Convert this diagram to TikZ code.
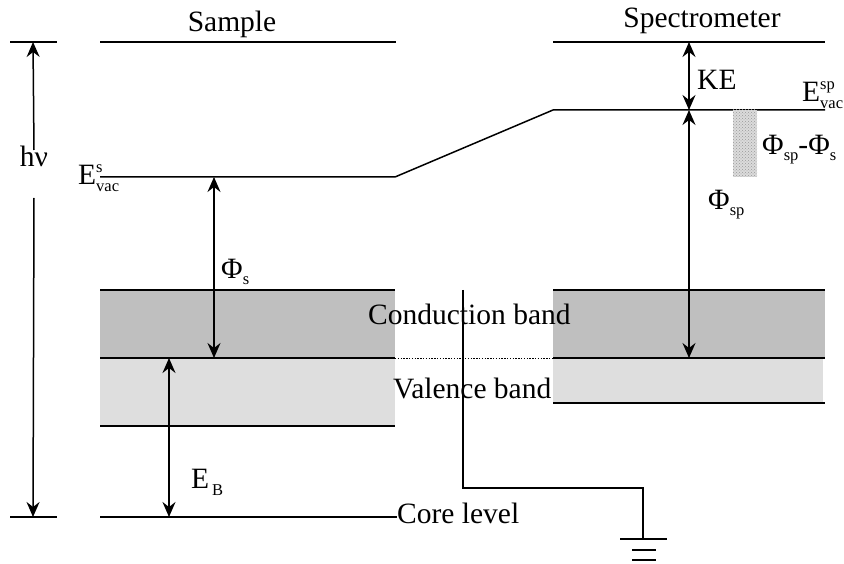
\documentclass[tikz,border=0pt]{standalone}
\usepackage{fontspec}
\setmainfont{Liberation Serif}
\usetikzlibrary{arrows.meta,patterns}
\newcommand{\sbs}{\fontsize{16.5}{17}\selectfont}
\newcommand{\supsub}[2]{\rlap{\raisebox{12pt}{\sbs #1}}\raisebox{-7pt}{\sbs #2}}
\begin{document}
\begin{tikzpicture}[x=1pt,y=-1pt,
  lvl/.style={line width=1.5pt},
  dbl/.style={line width=1.5pt,{Stealth[length=15pt,width=13pt,inset=5pt]}-{Stealth[length=15pt,width=13pt,inset=5pt]}},
  sgl/.style={line width=1.5pt,-{Stealth[length=15pt,width=13pt,inset=5pt]}},
  lbl/.style={font=\fontsize{29.5}{33}\selectfont, inner sep=0pt, anchor=base west},
  dark/.style={fill=black!25},
  light/.style={fill=black!13},
]
\useasboundingbox (0,0) rectangle (844,564);

% bands
\fill[dark]  (100,290) rectangle (395,358);
\fill[light] (100,358) rectangle (395,426);
\fill[dark]  (553,290) rectangle (825,358);
\fill[light] (553,358) rectangle (823,403);

% coordinates
\coordinate (hT1) at (10,42);  \coordinate (hT2) at (57,42);
\coordinate (hB1) at (10,517); \coordinate (hB2) at (57,517);
\coordinate (hTop) at (33,42); \coordinate (hBot) at (33,517);
\coordinate (sTopL) at (100,42); \coordinate (sTopR) at (396,42);
\coordinate (pTopL) at (553,42); \coordinate (pTopR) at (825,42);
\coordinate (vacL) at (100,177); \coordinate (vacM) at (395,177);
\coordinate (vacN) at (553,110); \coordinate (vacR) at (825,110);
\coordinate (cbLt1) at (100,290); \coordinate (cbLt2) at (395,290);
\coordinate (efL1) at (100,358); \coordinate (efL2) at (395,358);
\coordinate (vbLb1) at (100,426); \coordinate (vbLb2) at (395,426);
\coordinate (cbRt1) at (553,290); \coordinate (cbRt2) at (825,290);
\coordinate (efR1) at (553,358); \coordinate (efR2) at (825,358);
\coordinate (vbRb1) at (553,403); \coordinate (vbRb2) at (825,403);
\coordinate (coreL) at (100,517); \coordinate (coreR) at (397,517);
\coordinate (wTop) at (463,290); \coordinate (wBend) at (463,488);
\coordinate (wCorner) at (643,488); \coordinate (gnd) at (643,539);
\coordinate (g1a) at (620,539); \coordinate (g1b) at (667,539);
\coordinate (g2a) at (632,550); \coordinate (g2b) at (656,550);
\coordinate (g3a) at (632,560); \coordinate (g3b) at (656,560);
\coordinate (phsT) at (214,177); \coordinate (phsB) at (214,358);
\coordinate (ebT) at (169,358); \coordinate (ebB) at (169,517);
\coordinate (keT) at (689,42); \coordinate (keB) at (689,110);
\coordinate (pspB) at (689,358);

% levels
\draw[lvl] (hT1) -- (hT2);
\draw[lvl] (hB1) -- (hB2);
\draw[lvl] (sTopL) -- (sTopR);
\draw[lvl] (pTopL) -- (pTopR);
\draw[lvl] (vacL) -- (vacM) -- (vacN) -- (vacR);
\draw[lvl] (cbLt1) -- (cbLt2);
\draw[lvl] (efL1) -- (efL2);
\draw[lvl] (vbLb1) -- (vbLb2);
\draw[lvl] (cbRt1) -- (cbRt2);
\draw[lvl] (efR1) -- (efR2);
\draw[lvl] (vbRb1) -- (vbRb2);
\draw[lvl] (coreL) -- (coreR);
\draw[line width=1pt, dash pattern=on 1.4pt off 1.4pt] (efL2) -- (efR1);

% hatched box
\fill[black!14] (733,110) rectangle (757,177);
\fill[pattern=crosshatch dots, pattern color=black!40] (733,110) rectangle (757,177);

% labels
\node[lbl, anchor=base] (sample) at (232,32) {Sample};
\node[lbl, anchor=base] (spec) at (702,28) {Spectrometer};
\node[lbl, anchor=base, inner ysep=8pt] (hnu) at (34,167) {hν};
\node[lbl] (evs) at (78,185) {E\supsub{s}{vac}};
\node[lbl] (evsp) at (802,102) {E\supsub{sp}{vac}};
\node[lbl] (phis) at (221,279) {Φ\raisebox{-6pt}{\sbs s}};
\node[lbl] (phisp) at (708,210) {Φ\raisebox{-6pt}{\sbs sp}};
\node[lbl] (ke) at (697,90) {KE};
\node[lbl] (diff) at (762,155) {Φ\raisebox{-6pt}{\sbs sp}-Φ\raisebox{-6pt}{\sbs s}};
\node[lbl] (eb) at (191,488) {E\kern3pt\raisebox{-7pt}{\sbs B}};
\node[lbl] (core) at (397,523) {Core level};
\node[lbl] (cb) at (368,325) {Conduction band};
\node[lbl] (vb) at (393,398) {Valence band};

% arrows
\draw[sgl] (hnu.north |- 0,150) -- (hTop);
\draw[sgl] (hnu.south |- 0,198) -- (hBot);
\draw[dbl] (phsT) -- (phsB);
\draw[dbl] (ebT) -- (ebB);
\draw[dbl] (keT) -- (keB);
\draw[dbl] (keB) -- (pspB);

% wire and ground
\draw[lvl] (wTop) -- (wBend) -- (wCorner) -- (gnd);
\draw[lvl] (g1a) -- (g1b);
\draw[lvl] (g2a) -- (g2b);
\draw[lvl] (g3a) -- (g3b);
\end{tikzpicture}
\end{document}
